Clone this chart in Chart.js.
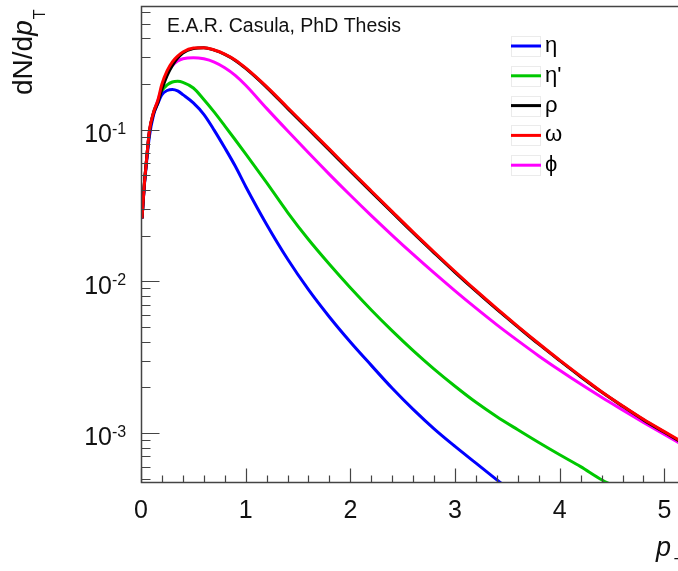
<!DOCTYPE html>
<html>
<head>
<meta charset="utf-8">
<script src="https://cdn.jsdelivr.net/npm/chart.js@4.4.1/dist/chart.umd.min.js"></script>
<style>
 html,body{margin:0;padding:0;background:#fff;}
 #wrap{width:678px;height:571px;position:relative;}
</style>
</head>
<body>
<div id="wrap"><canvas id="ptChart" width="678" height="571"></canvas></div>
<script>
// pT bins (GeV/c) and dN/dpT
const pT = [0.01,0.03,0.05,0.08,0.12,0.16,0.2,0.25,0.3,0.35,0.4,0.5,0.6,0.7,0.8,0.9,1.0,1.2,1.4,1.6,1.8,2.0,2.2,2.4,2.6,2.8,3.0,3.2,3.4,3.6,3.8,4.0,4.2,4.4,4.6,4.8,5.0,5.2];
const eta = [0.026,0.041,0.058,0.09,0.125,0.148,0.17,0.181,0.184,0.180,0.170,0.150,0.126,0.0989,0.0759,0.0575,0.0422,0.0237,0.01403,0.00881,0.00582,0.00398,0.00279,0.00197,0.00143,0.001064,0.000815,0.000632,0.000491,0.000381,null,null,null,null,null,null,null,null];
const etaPrime = [0.026,0.042,0.060,0.095,0.13,0.152,0.18,0.197,0.206,0.208,0.205,0.188,0.158,0.1303,0.1059,0.0857,0.0692,0.0447,0.0285,0.01884,0.01294,0.00906,0.00647,0.00471,0.00349,0.002636,0.002032,0.001592,0.00128,0.00105,0.000865,0.000718,0.0006,0.000492,0.00042,null,null,null];
const rho = [0.026,0.042,0.060,0.097,0.128,0.150,0.185,0.228,0.265,0.296,0.320,0.342,0.347,0.334,0.313,0.286,0.253,0.190,0.138,0.1005,0.0732,0.0532,0.0388,0.0284,0.0208,0.0154,0.01145,0.0086,0.00652,0.005,0.00385,0.003,0.00235,0.00186,0.0015,0.00122,0.00101,0.00084];
const omega = [0.026,0.042,0.060,0.098,0.13,0.155,0.2,0.245,0.28,0.305,0.325,0.345,0.347,0.335,0.315,0.288,0.255,0.192,0.140,0.102,0.0743,0.054,0.0394,0.0288,0.0211,0.0156,0.0116,0.0087,0.0066,0.00505,0.00389,0.00302,0.00237,0.00187,0.00151,0.00123,0.00102,0.00085];
const phi = [0.026,0.042,0.060,0.097,0.13,0.155,0.19,0.238,0.265,0.283,0.293,0.298,0.293,0.279,0.256,0.228,0.196,0.138,0.0982,0.0703,0.0507,0.0369,0.0271,0.0201,0.01503,0.01135,0.00865,0.00665,0.00516,0.00406,0.00322,0.00259,0.0021,0.00172,0.00142,0.001175,0.000977,0.000817];

const seriesNames = ['η', "η'", 'ρ', 'ω', 'ϕ'];
const seriesColors = ['#0000ff', '#00c800', '#000000', '#ff0000', '#ff00ff'];
const xTicks = [0,1,2,3,4,5];
const yDecades = [1e-3, 1e-2, 1e-1];
const yDecadeExp = ['-3','-2','-1'];
const note = 'E.A.R. Casula, PhD Thesis';

const FONT = '"Liberation Sans", Arial, Helvetica, sans-serif';

function pts(vals){
  return pT.map((x,i)=>({x:x, y:vals[i]}));
}

const allSeries = [eta, etaPrime, rho, omega, phi];
const drawOrder = [2, 2, 1, 0, 2];

// ROOT-like frame, ticks, labels and legend
const rootAxes = {
  id: 'rootAxes',
  beforeDraw(chart){
    const c = chart.ctx;
    c.save(); c.fillStyle = '#fff'; c.fillRect(0,0,chart.width,chart.height); c.restore();
  },
  afterDatasetsDraw(chart){
    const c = chart.ctx;
    const a = chart.chartArea;
    const xs = chart.scales.x, ys = chart.scales.y;
    const L = Math.round(a.left) + 0.5, B = Math.round(a.bottom) + 0.5, T = Math.round(a.top) + 0.5;
    c.save();
    c.strokeStyle = '#444';
    c.lineWidth = 1.5;
    c.beginPath();
    c.moveTo(chart.width + 5, T); c.lineTo(L, T); c.lineTo(L, B); c.lineTo(chart.width + 5, B);
    c.stroke();

    // y ticks (log): majors at decades, minors 2..9
    c.lineWidth = 1.2;
    c.beginPath();
    for (let e = -4; e <= 0; e++){
      for (let m = 1; m <= 9; m++){
        const v = m * Math.pow(10, e);
        if (v < ys.min || v > ys.max) continue;
        const py = Math.round(ys.getPixelForValue(v)) + 0.5;
        const len = m === 1 ? 18 : 9;
        c.moveTo(L, py); c.lineTo(L + len, py);
      }
    }
    // x ticks: majors every 1, minors every 0.2
    for (let k = 0; k <= 30; k++){
      const v = k * 0.2;
      if (v > xs.max) break;
      const px = Math.round(xs.getPixelForValue(v)) + 0.5;
      const len = k % 5 === 0 ? 14 : 7;
      c.moveTo(px, B); c.lineTo(px, B - len);
    }
    c.stroke();

    // tick labels
    c.fillStyle = '#111';
    c.textBaseline = 'alphabetic';
    yDecades.forEach((v, i) => {
      const py = ys.getPixelForValue(v);
      c.font = '25px ' + FONT;
      c.textAlign = 'right';
      c.fillText('10', 112, py + 12.5);
      c.font = '16px ' + FONT;
      c.textAlign = 'left';
      c.fillText(yDecadeExp[i], 112, py + 4);
    });
    c.font = '25px ' + FONT;
    c.textAlign = 'center';
    xTicks.forEach(v => {
      c.fillText(String(v), xs.getPixelForValue(v), 518);
    });

    // axis titles
    c.save();
    c.translate(32, 95);
    c.rotate(-Math.PI/2);
    c.textAlign = 'left';
    c.font = '28px ' + FONT;
    c.fillText('dN/d', 0, 0);
    let w = c.measureText('dN/d').width;
    c.font = 'italic 28px ' + FONT;
    c.fillText('p', w, 0);
    w += c.measureText('p').width;
    c.font = '16px ' + FONT;
    c.fillText('T', w + 1, 13);
    c.restore();

    c.textAlign = 'left';
    c.font = 'italic 27px ' + FONT;
    c.fillText('p', 656, 556);
    c.font = '16px ' + FONT;
    c.fillText('T', 674, 570);

    // note
    c.font = '19.5px ' + FONT;
    c.fillText(note, 167, 32);

    // legend
    chart.data.datasets.forEach((ds, i) => {
      const ly = 46 + i * 29.8;
      c.strokeStyle = '#ebebeb';
      c.lineWidth = 1;
      c.strokeRect(511.5, Math.round(ly) - 9.5, 29, 20);
      c.strokeStyle = ds.borderColor;
      c.lineWidth = 3;
      c.beginPath(); c.moveTo(511, ly); c.lineTo(541, ly); c.stroke();
      c.fillStyle = '#000';
      c.font = '22px ' + FONT;
      c.fillText(ds.label, 545, ly + 6);
    });
    c.restore();
  }
};

const ctx = document.getElementById('ptChart').getContext('2d');
const chart = new Chart(ctx, {
  type: 'line',
  data: {
    datasets: allSeries.map((s, i) => ({
      label: seriesNames[i],
      data: pts(s),
      borderColor: seriesColors[i],
      backgroundColor: seriesColors[i],
      borderWidth: 3,
      pointRadius: 0,
      cubicInterpolationMode: 'monotone',
      fill: false,
      spanGaps: false,
      clip: 0,
      order: drawOrder[i]
    }))
  },
  options: {
    responsive: false,
    animation: false,
    devicePixelRatio: 1,
    layout: { padding: { left: 141, right: 0, top: 6, bottom: 89 } },
    plugins: { legend: { display: false }, tooltip: { enabled: false } },
    scales: {
      x: { type: 'linear', min: 0, max: 5.13, display: false },
      y: { type: 'logarithmic', min: 4.75e-4, max: 0.653, display: false }
    }
  },
  plugins: [rootAxes]
});
</script>
</body>
</html>
